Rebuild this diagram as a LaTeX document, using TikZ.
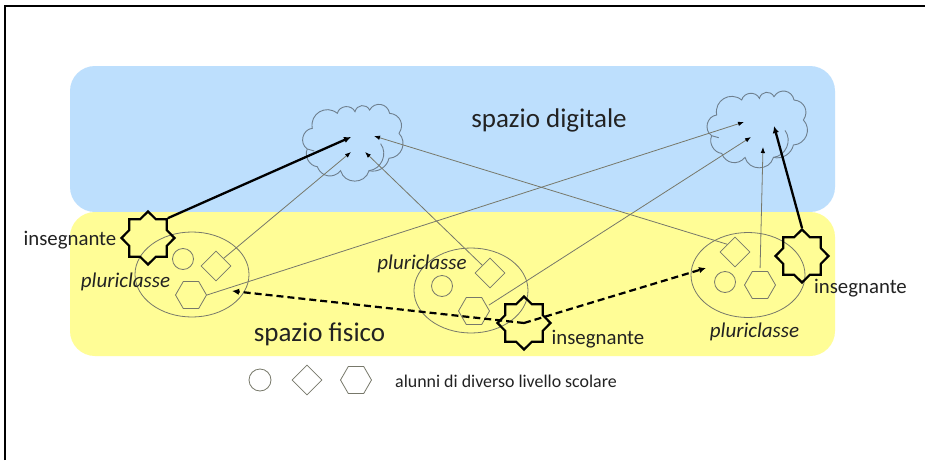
\documentclass[tikz,border=0pt]{standalone}
\usepackage{fontspec}
\setmainfont{Carlito}
\usetikzlibrary{arrows.meta,shapes.geometric}
\definecolor{bluezone}{HTML}{BDDFFD}
\definecolor{yellowzone}{HTML}{FFFD96}
\definecolor{thinline}{HTML}{77786A}
\definecolor{cloudline}{HTML}{6E7F8E}
\definecolor{inktext}{HTML}{222222}
\tikzset{
  zone/.style={rounded corners=25pt,draw=none},
  pupilline/.style={draw=thinline,line width=0.8pt},
  pupilcircle/.style={pupilline,circle,inner sep=0pt,minimum size=21pt},
  pupildiamond/.style={pupilline,diamond,inner sep=0pt,minimum width=30pt,minimum height=30pt},
  pupilhex/.style={pupilline,regular polygon,regular polygon sides=6,inner sep=0pt,minimum size=31pt},
  classellipse/.style={pupilline,ellipse,inner sep=0pt,minimum width=114pt,minimum height=85pt},
  teacher/.style={draw=black,line width=2.2pt,star,star points=8,star point ratio=1.3,inner sep=0pt,minimum size=53pt,miter limit=3},
  lab/.style={text=inktext,inner sep=0pt,font=\fontsize{20.8}{24}\selectfont},
  classlab/.style={text=inktext,inner sep=0pt,font=\fontsize{21}{24}\selectfont\itshape},
  zonelab/.style={text=inktext,inner sep=0pt,font=\fontsize{27}{30}\selectfont},
  thinarrow/.style={draw=thinline,line width=0.8pt,-{Latex[length=6pt,width=4.5pt,color=black]}},
  thickarrow/.style={draw=black,line width=2.3pt,-{Latex[length=7pt,width=6.5pt]}},
  dasharrow/.style={draw=black,line width=2.2pt,dash pattern=on 7pt off 4pt,-{Latex[length=7pt,width=6.5pt]}},
  cloudpic/.pic={
    \draw[draw=cloudline,line width=0.9pt]
      (-45,9) to[bend left=70,looseness=1.2] (-40,-11.7)
      to[bend left=70,looseness=1.3] (-15,-26.7)
      to[bend left=70,looseness=1.2] (2.7,-28.3)
      to[bend left=70,looseness=1.3] (17.3,-30)
      to[bend left=70,looseness=1.3] (37.3,-26.7)
      to[bend left=60,looseness=1.2] (46.7,-6.7)
      to[bend left=65,looseness=1.2] (36.7,18.3)
      to[bend left=45] (16.7,30.7)
      to[bend left=75,looseness=1.3] (-11.7,30.7)
      to[bend left=60,looseness=1.2] (-35,26.7)
      to[bend left=55] (-45,9);
    \draw[draw=cloudline,line width=0.9pt]
      (28.3,3.7) to[bend left=60,looseness=1.1] (16.7,30.7)
      (-45,9) -- (-38,11);
  }
}
\begin{document}
\begin{tikzpicture}[x=1pt,y=-1pt]
\useasboundingbox (0,0) rectangle (925,460);
\fill[white] (0,0) rectangle (925,460);
\draw[black,line width=1.2pt] (5,460) -- (5,6) -- (925,6);
\fill[zone,fill=bluezone] (70,66) rectangle (835,212);
\fill[zone,fill=yellowzone] (70,212) rectangle (835,356);
% clouds
\pic at (352.3,140) {cloudpic};
\pic at (756.7,126.7) {cloudpic};
\coordinate (ca) at (351,137);
\coordinate (cb) at (351,152);
\coordinate (cc) at (365,152);
\coordinate (cd) at (374,136);
\coordinate (da) at (744,122);
\coordinate (db) at (751,137);
\coordinate (dc) at (763,147);
\coordinate (dd) at (774,126);
\coordinate (tipleft) at (232,291);
\coordinate (tipright) at (706,268);
% classes
\node[classellipse] (e1) at (192,274.5) {};
\node[classellipse] (e2) at (471,290.5) {};
\node[classellipse] (e3) at (748,275) {};
\node[pupilcircle] (c1) at (183,259) {};
\node[pupildiamond] (d1) at (216,266) {};
\node[pupilhex] (h1) at (191,295) {};
\node[pupilcircle] (c2) at (442,286) {};
\node[pupildiamond] (d2) at (490,273) {};
\node[pupilhex] (h2) at (474,311) {};
\node[pupilcircle] (c3) at (725,282) {};
\node[pupildiamond] (d3) at (735,252) {};
\node[pupilhex] (h3) at (760,285) {};
% teachers
\node[teacher] (t1) at (148,238) {};
\node[teacher] (t2) at (524,323) {};
\node[teacher] (t3) at (802,256) {};
% connectors
\draw[thickarrow] (t1.45) -- (ca);
\draw[thinarrow] (d1.45) -- (cb);
\draw[thinarrow] (d2.135) -- (cc);
\draw[thinarrow] (d3.135) -- (cd);
\draw[thinarrow] (h1.0) -- (da);
\draw[thinarrow,shorten <=2pt] (h2.20) -- (db);
\draw[thinarrow,shorten <=3pt] (h3.90) -- (dc);
\draw[thickarrow] (t3.90) -- (dd);
\draw[dasharrow] (t2.center) -- (tipleft);
\draw[dasharrow] (t2.center) -- (tipright);
% labels
\node[zonelab] (zd) at (549,120) {spazio digitale};
\node[zonelab] (zf) at (319.5,334) {spazio fisico};
\node[lab] (l1) at (70,240) {insegnante};
\node[lab] (l2) at (598,339) {insegnante};
\node[lab] (l3) at (860.5,288) {insegnante};
\node[classlab] (p1) at (125.5,282) {pluriclasse};
\node[classlab] (p2) at (422,264) {pluriclasse};
\node[classlab] (p3) at (754.5,332) {pluriclasse};
% legend
\node[pupilcircle,minimum size=22pt] (lc) at (260,380) {};
\node[pupildiamond] (ld) at (307,380) {};
\node[pupilhex] (lh) at (356,380) {};
\node[text=inktext,inner sep=0pt,font=\fontsize{17.9}{20}\selectfont] (ll) at (506,381) {alunni di diverso livello scolare};
\end{tikzpicture}
\end{document}
